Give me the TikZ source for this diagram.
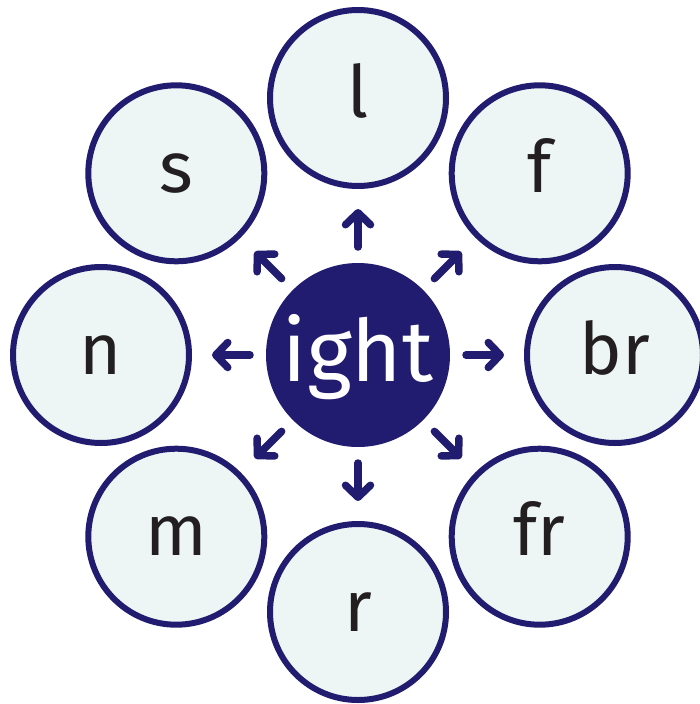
\documentclass[tikz,border=0pt]{standalone}
\usepackage{fontspec}
\setmainfont{Fira Sans}
\usetikzlibrary{arrows.meta,calc,positioning}
\definecolor{navy}{RGB}{33,28,111}
\definecolor{pale}{RGB}{237,246,245}
\definecolor{ink}{RGB}{35,31,32}

\begin{document}
\begin{tikzpicture}[x=1pt,y=-1pt]
		\tikzstyle{every node}=[font=\fontsize{72}{72}\selectfont]
		\tikzstyle{onset}=[circle, draw=navy, fill=pale, line width=6pt, minimum size=176pt, inner sep=0pt, text=ink, text height=38pt, text depth=0pt]
		\tikzstyle{spoke}=[draw=navy, line width=7.5pt, line cap=round, -{Straight Barb[length=12pt, width=25pt, round]}, shorten <=16pt, shorten >=20pt]
		\useasboundingbox (0,0) rectangle (699,704);
		\node [circle, fill=navy, minimum size=184pt, inner sep=0pt, outer sep=0pt, text=white, font=\fontsize{86}{86}\selectfont, text height=52pt, text depth=0pt] (ight) at (358,355) {ight};
		\node [onset] (l) at ($(ight)+(0,-257)$) {l};
		\node [onset] (f) at ($(ight)+(181.7,-181.7)$) {f};
		\node [onset] (br) at ($(ight)+(257,0)$) {br};
		\node [onset] (fr) at ($(ight)+(181.7,181.7)$) {fr};
		\node [onset] (r) at ($(ight)+(0,257)$) {r};
		\node [onset] (m) at ($(ight)+(-181.7,181.7)$) {m};
		\node [onset] (n) at ($(ight)+(-257,0)$) {n};
		\node [onset] (s) at ($(ight)+(-181.7,-181.7)$) {s};
		\draw [spoke] (ight) -- (l);
		\draw [spoke] (ight) -- (f);
		\draw [spoke] (ight) -- (br);
		\draw [spoke] (ight) -- (fr);
		\draw [spoke] (ight) -- (r);
		\draw [spoke] (ight) -- (m);
		\draw [spoke] (ight) -- (n);
		\draw [spoke] (ight) -- (s);
	\end{tikzpicture}
\end{document}
